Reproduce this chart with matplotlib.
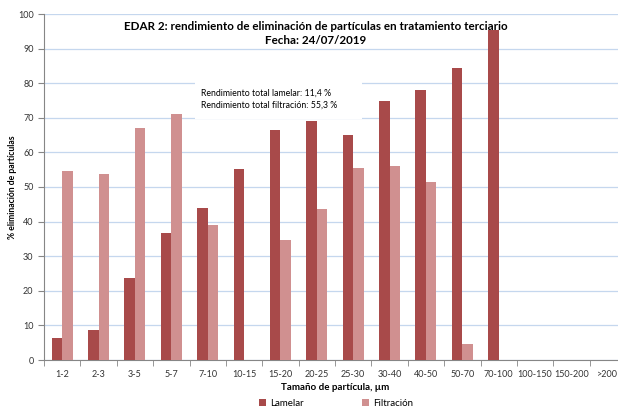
import matplotlib
matplotlib.use("Agg")
import matplotlib.pyplot as plt
import numpy as np

plt.rcParams['font.family'] = ['Lato', 'DejaVu Sans']

# datos
categorias = ['1-2', '2-3', '3-5', '5-7', '7-10', '10-15', '15-20', '20-25', '25-30',
              '30-40', '40-50', '50-70', '70-100', '100-150', '150-200', '>200']
lamelar = [6.4, 8.8, 23.8, 36.7, 43.8, 55.2, 66.5, 69.0, 65.0,
           74.8, 78.0, 84.3, 95.5, 0, 0, 0]
filtracion = [54.6, 53.9, 67.0, 71.2, 39.0, 0, 34.6, 43.5, 55.4,
              56.0, 51.5, 4.7, 0, 0, 0, 0]

c_lam = '#A84A4A'
c_fil = '#D09090'

fig = plt.figure(figsize=(6.18, 4.07), dpi=100)
ax = fig.add_axes([44 / 618, 1 - 360 / 407, 582 / 618, 346 / 407])

x = np.arange(len(categorias))
w = 0.29
ax.bar(x - w / 2, lamelar, w, color=c_lam, label='Lamelar', zorder=3)
ax.bar(x + w / 2, filtracion, w, color=c_fil, label='Filtración', zorder=3)

ax.set_xlim(-0.5, len(categorias) - 0.5)
ax.set_ylim(0, 100)
ax.set_yticks(np.arange(0, 101, 10))
ax.grid(axis='y', color='#C5D7EE', lw=0.9, zorder=0)
ax.axhline(100, color='#9DBCE4', lw=1.2, zorder=1)

ax.set_xticks(x)
ax.set_xticklabels(categorias)
ax.set_xticks(np.arange(-0.5, len(categorias)), minor=True)
ax.tick_params(axis='x', which='major', length=0, labelsize=6.5, pad=7, colors='#333333')
ax.tick_params(axis='x', which='minor', length=4, color='#868686')
ax.tick_params(axis='y', length=4, labelsize=6.5, color='#868686', labelcolor='#333333')

for s in ['top', 'right']:
    ax.spines[s].set_visible(False)
ax.spines['left'].set_color('#868686')
ax.spines['bottom'].set_color('#868686')

ax.set_ylabel('% eliminación de partículas', fontsize=6.2, fontweight='bold')
ax.yaxis.set_label_coords(-27 / 582, 0.5)
ax.set_xlabel('Tamaño de partícula, µm', fontsize=7, fontweight='bold')
ax.xaxis.set_label_coords(0.5, -23 / 346)

fig.text(316 / 618, 1 - 26 / 407, 'EDAR 2: rendimiento de eliminación de partículas en tratamiento terciario',
         ha='center', va='center', fontsize=8.4, fontweight='bold')
fig.text(316 / 618, 1 - 41 / 407, 'Fecha: 24/07/2019',
         ha='center', va='center', fontsize=8.4, fontweight='bold')

fig.patches.append(plt.Rectangle((195 / 618, 1 - 119 / 407), 167 / 618, 38 / 407,
                                 transform=fig.transFigure, facecolor='white',
                                 edgecolor='none', zorder=2))
fig.text(201 / 618, 1 - 99 / 407, 'Rendimiento total lamelar: 11,4 %\nRendimiento total filtración: 55,3 %',
         ha='left', va='center', fontsize=6.3, linespacing=1.4, zorder=3)

fig.legend(loc='center', bbox_to_anchor=(336 / 618, 1 - 403 / 407), ncol=2, frameon=False,
           fontsize=7, handlelength=0.7, handleheight=0.7, columnspacing=6, handletextpad=0.4)

fig.savefig('out.png', dpi=100)
